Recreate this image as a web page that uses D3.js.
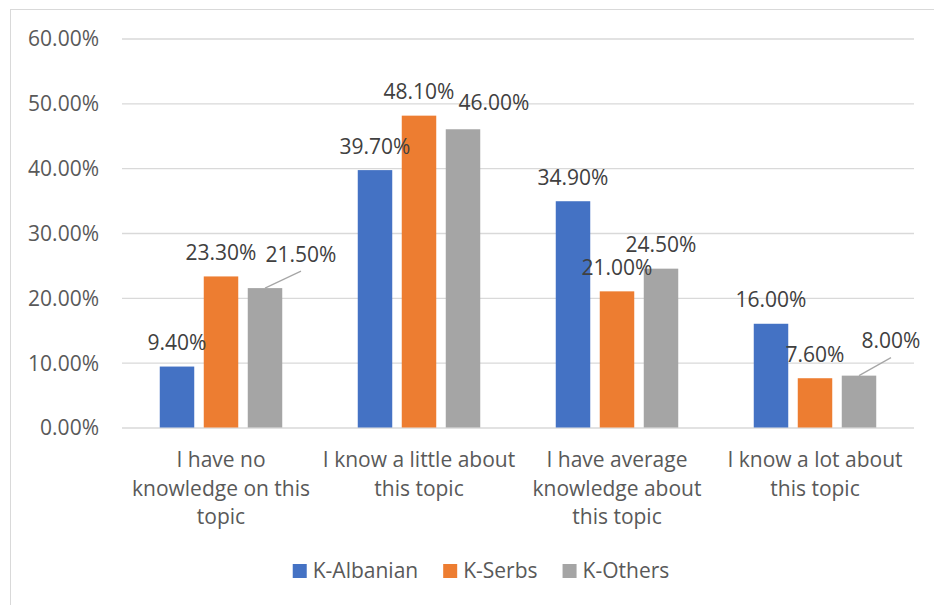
<!DOCTYPE html>
<html>
<head>
<meta charset="utf-8">
<script src="https://cdn.jsdelivr.net/npm/d3@7"></script>
<style>
  html, body { margin: 0; padding: 0; background: #fff; }
  svg { display: block; }
  text { font-family: "Open Sans", "Liberation Sans", sans-serif; }
</style>
</head>
<body>
<svg id="chart" width="934" height="605"></svg>
<script>
// ---- data ----
const categories = [
  ["I have no", "knowledge on this", "topic"],
  ["I know a little about", "this topic"],
  ["I have average", "knowledge about", "this topic"],
  ["I know a lot about", "this topic"]
];
const seriesNames = ["K-Albanian", "K-Serbs", "K-Others"];
const kAlbanian = [9.4, 39.7, 34.9, 16.0];
const kSerbs = [23.3, 48.1, 21.0, 7.6];
const kOthers = [21.5, 46.0, 24.5, 8.0];
const yTicks = [0, 10, 20, 30, 40, 50, 60];

// ---- layout / style (not data) ----
const colors = ["#4472C4", "#ED7D31", "#A5A5A5"];
const seriesValues = [kAlbanian, kSerbs, kOthers];
// manually moved labels: [seriesIndex, categoryIndex] -> offset, leader
const labelMoves = {
  "2-0": { dx: 36, dy: -10, leader: true },
  "2-1": { dx: 31, dy: -3, leader: false },
  "2-3": { dx: 32, dy: -11, leader: true }
};

const svg = d3.select("#chart");
const fontSize = 21;
const catKeys = categories.map((c, i) => i);

// chart border
svg.append("rect")
  .attr("x", 10.5).attr("y", 9.5)
  .attr("width", 1000).attr("height", 1000)
  .attr("fill", "none").attr("stroke", "#D9D9D9").attr("stroke-width", 1);

const x0 = d3.scaleBand().domain(catKeys).range([122, 914]).padding(0);
const half = 66;
const x1 = d3.scaleBand().domain(d3.range(seriesNames.length))
  .range([x0.bandwidth() / 2 - half, x0.bandwidth() / 2 + half])
  .paddingInner(0.216).paddingOuter(0.108);
const y = d3.scaleLinear().domain([0, 60]).range([427.5, 38.5]);

// gridlines + y labels via axis
const yAxis = d3.axisLeft(y).tickValues(yTicks)
  .tickSize(-(914 - 122)).tickPadding(23)
  .tickFormat(d => d.toFixed(2) + "%");
const gy = svg.append("g").attr("transform", "translate(122,0)").call(yAxis);
gy.select(".domain").remove();
gy.selectAll(".tick line").attr("stroke", "#D9D9D9").attr("stroke-width", 1.3);
gy.selectAll(".tick text")
  .attr("fill", "#595959").attr("font-size", fontSize)
  .attr("font-family", "'Open Sans', sans-serif")
  .attr("dy", "0.35em");

// bars
const groups = svg.append("g").selectAll("g")
  .data(catKeys).join("g")
  .attr("transform", d => `translate(${x0(d)},0)`);

groups.selectAll("rect")
  .data(ci => seriesValues.map((vals, si) => ({ si, ci, v: vals[ci] })))
  .join("rect")
  .attr("x", d => x1(d.si))
  .attr("width", x1.bandwidth())
  .attr("y", d => y(d.v))
  .attr("height", d => y(0) - y(d.v))
  .attr("fill", d => colors[d.si]);

// data labels
const labelData = [];
seriesValues.forEach((vals, si) => vals.forEach((v, ci) => labelData.push({ si, ci, v })));
const lblG = svg.append("g");
labelData.forEach(d => {
  const bx = x0(d.ci) + x1(d.si) + x1.bandwidth() / 2;
  const by = y(d.v);
  const mv = labelMoves[d.si + "-" + d.ci] || { dx: 0, dy: 0, leader: false };
  const cx = bx + mv.dx;
  const cy = by - 24 + mv.dy;
  if (mv.leader) {
    lblG.append("line")
      .attr("x1", bx).attr("y1", by)
      .attr("x2", cx).attr("y2", cy + 17)
      .attr("stroke", "#A6A6A6").attr("stroke-width", 1.2);
  }
  lblG.append("text")
    .attr("x", cx).attr("y", cy)
    .attr("dy", "0.36em")
    .attr("text-anchor", "middle")
    .attr("font-size", fontSize)
    .attr("fill", "#404040")
    .text(d.v.toFixed(2) + "%");
});

// category labels
const catG = svg.append("g");
categories.forEach((lines, ci) => {
  const t = catG.append("text")
    .attr("text-anchor", "middle")
    .attr("font-size", fontSize)
    .attr("fill", "#595959");
  lines.forEach((ln, li) => {
    t.append("tspan")
      .attr("x", x0(ci) + x0.bandwidth() / 2)
      .attr("y", 467 + li * 28.5)
      .text(ln);
  });
});

// legend
const legG = svg.append("g");
let lx = 0;
const items = [];
seriesNames.forEach((name, i) => {
  const g = legG.append("g");
  g.append("rect").attr("x", lx).attr("y", 564).attr("width", 14).attr("height", 14).attr("fill", colors[i]);
  const t = g.append("text").attr("x", lx + 20).attr("y", 578)
    .attr("font-size", fontSize).attr("fill", "#595959").text(name);
  const w = t.node().getComputedTextLength();
  lx += 20 + w + 25;
});
const totalW = lx - 25;
legG.attr("transform", `translate(${481 - totalW / 2},0)`);
</script>
</body>
</html>
